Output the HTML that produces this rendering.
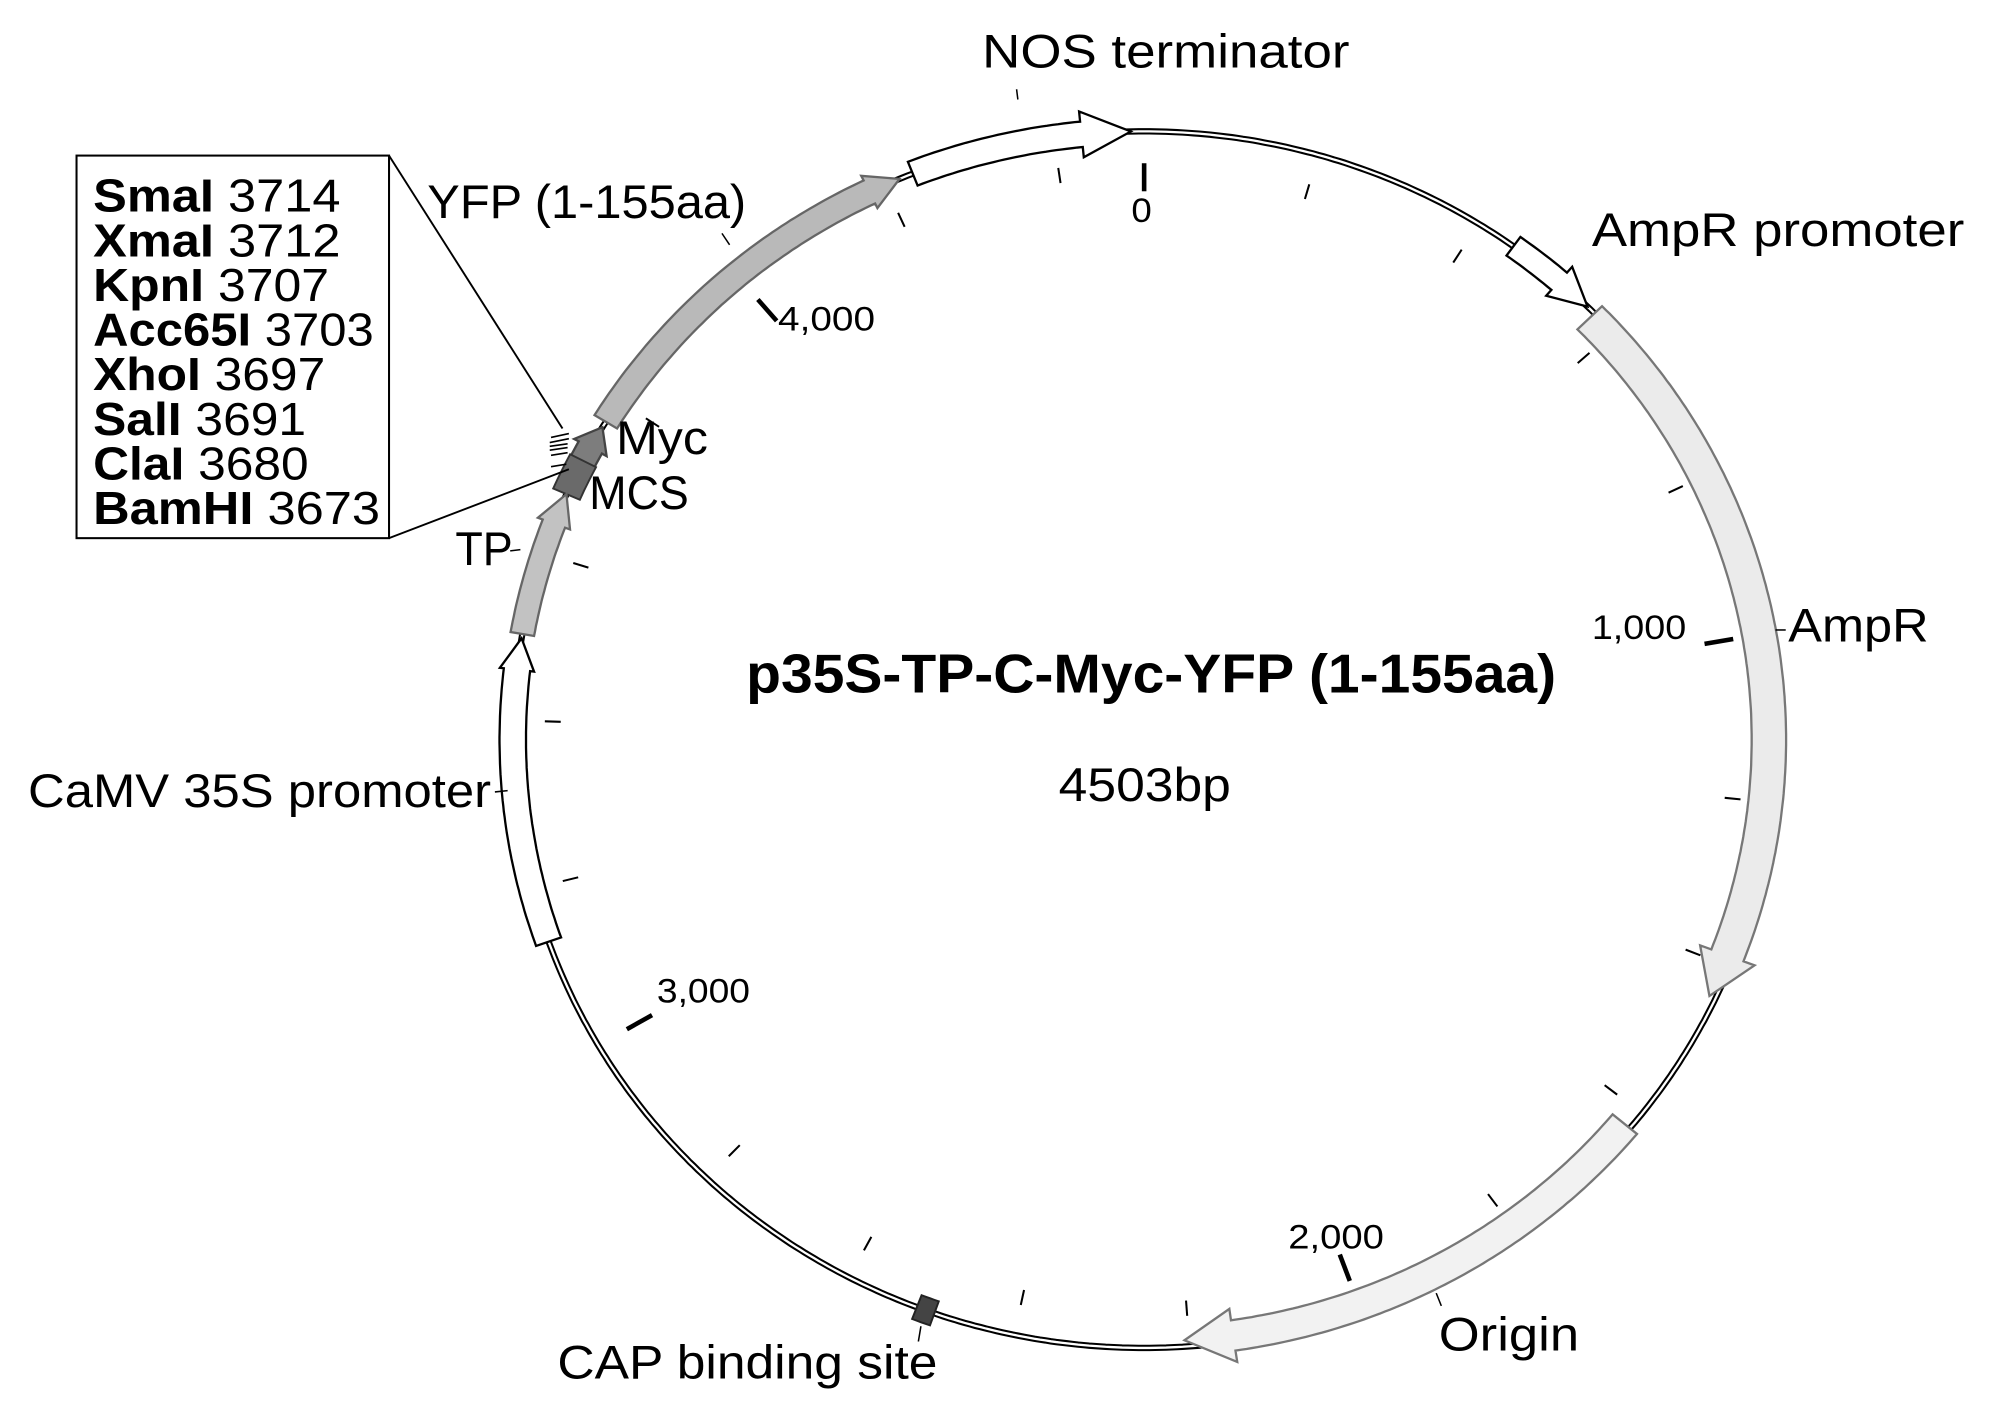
<!DOCTYPE html>
<html><head><meta charset="utf-8"><style>
html,body{margin:0;padding:0;background:#fff;}
svg{display:block;}
text{font-family:"Liberation Sans",sans-serif;fill:#000;}
</style></head><body>
<svg id="s" xmlns="http://www.w3.org/2000/svg" width="2000" height="1427" viewBox="0 0 1568 1119" preserveAspectRatio="none">
<g id="shapes"></g>
<rect x="60" y="122" width="245" height="300" fill="none" stroke="#000" stroke-width="1.6"/>
<line x1="305" y1="122" x2="441" y2="336" stroke="#000" stroke-width="1.5"/>
<line x1="305" y1="422" x2="446" y2="368" stroke="#000" stroke-width="1.5"/>
<g stroke="#000" stroke-width="1.3">
<line x1="432" y1="343" x2="446" y2="340"/><line x1="431" y1="347" x2="446" y2="344"/>
<line x1="431" y1="350" x2="445" y2="348"/><line x1="431" y1="353" x2="445" y2="351"/>
<line x1="432" y1="357" x2="445" y2="355"/><line x1="432" y1="366" x2="444" y2="364"/>
</g>
<g font-size="36">
<text x="73" y="166" textLength="194" lengthAdjust="spacingAndGlyphs"><tspan font-weight="bold">SmaI</tspan> 3714</text>
<text x="73" y="201" textLength="194" lengthAdjust="spacingAndGlyphs"><tspan font-weight="bold">XmaI</tspan> 3712</text>
<text x="73" y="236" textLength="185" lengthAdjust="spacingAndGlyphs"><tspan font-weight="bold">KpnI</tspan> 3707</text>
<text x="73" y="271" textLength="220" lengthAdjust="spacingAndGlyphs"><tspan font-weight="bold">Acc65I</tspan> 3703</text>
<text x="73" y="306" textLength="182" lengthAdjust="spacingAndGlyphs"><tspan font-weight="bold">XhoI</tspan> 3697</text>
<text x="73" y="341" textLength="167" lengthAdjust="spacingAndGlyphs"><tspan font-weight="bold">SalI</tspan> 3691</text>
<text x="73" y="376" textLength="169" lengthAdjust="spacingAndGlyphs"><tspan font-weight="bold">ClaI</tspan> 3680</text>
<text x="73" y="411" textLength="225" lengthAdjust="spacingAndGlyphs"><tspan font-weight="bold">BamHI</tspan> 3673</text>
</g>
<g font-size="37">
<text x="770" y="53" textLength="288" lengthAdjust="spacingAndGlyphs">NOS terminator</text>
<text x="1248" y="193" textLength="292" lengthAdjust="spacingAndGlyphs">AmpR promoter</text>
<text x="335" y="171" textLength="250" lengthAdjust="spacingAndGlyphs">YFP (1-155aa)</text>
<text x="483" y="356" textLength="72" lengthAdjust="spacingAndGlyphs">Myc</text>
<text x="462" y="399" textLength="78" lengthAdjust="spacingAndGlyphs">MCS</text>
<text x="357" y="443" textLength="45" lengthAdjust="spacingAndGlyphs">TP</text>
<text x="1402" y="503" textLength="110" lengthAdjust="spacingAndGlyphs">AmpR</text>
<text x="830" y="628" textLength="135" lengthAdjust="spacingAndGlyphs">4503bp</text>
<text x="22" y="633" textLength="363" lengthAdjust="spacingAndGlyphs">CaMV 35S promoter</text>
<text x="1128" y="1059" textLength="110" lengthAdjust="spacingAndGlyphs">Origin</text>
<text x="437" y="1081" textLength="298" lengthAdjust="spacingAndGlyphs">CAP binding site</text>
</g>
<text x="585" y="543" font-size="43" font-weight="bold" textLength="635" lengthAdjust="spacingAndGlyphs">p35S-TP-C-Myc-YFP (1-155aa)</text>
<g font-size="27">
<text x="887" y="174" textLength="16" lengthAdjust="spacingAndGlyphs">0</text>
<text x="610" y="259" textLength="76" lengthAdjust="spacingAndGlyphs">4,000</text>
<text x="1248" y="501" textLength="74" lengthAdjust="spacingAndGlyphs">1,000</text>
<text x="515" y="786" textLength="73" lengthAdjust="spacingAndGlyphs">3,000</text>
<text x="1010" y="979" textLength="75" lengthAdjust="spacingAndGlyphs">2,000</text>
</g>
<g stroke="#000" stroke-width="1.2">
<line x1="797" y1="70" x2="798" y2="78"/>
<line x1="566" y1="183" x2="572" y2="192"/>
<line x1="1392" y1="494" x2="1400" y2="494"/>
<line x1="1126" y1="1014" x2="1130" y2="1024"/>
<line x1="722" y1="1040" x2="720" y2="1052"/>
<line x1="388" y1="621" x2="398" y2="620"/>
<line x1="400" y1="432" x2="408" y2="431"/>
</g>
</svg>
<script>
(function(){
var cx=897,cy=580,sx=1.0377,R=477;
function P(d,r){var a=d*Math.PI/180;return [cx+sx*r*Math.sin(a),cy-r*Math.cos(a)];}
function f(p){return p[0].toFixed(1)+","+p[1].toFixed(1);}
var g=document.getElementById('shapes'),out="";
function arcPts(a0,a1,r){var n=Math.max(2,Math.ceil(Math.abs(a1-a0)*2)),s=[];for(var i=0;i<=n;i++)s.push(f(P(a0+(a1-a0)*i/n,r)));return s;}
var bb=arcPts(0,360,R).join(" ");
out+='<polyline points="'+bb+'" fill="none" stroke="#000" stroke-width="5"/>';
out+='<polyline points="'+bb+'" fill="none" stroke="#fff" stroke-width="1.8"/>';
for(var k=200;k<4503;k+=200){if(k%1000==0)continue;var d=k*360/4503;out+='<line x1="'+P(d,441)[0]+'" y1="'+P(d,441)[1]+'" x2="'+P(d,453)[0]+'" y2="'+P(d,453)[1]+'" stroke="#000" stroke-width="1.6"/>';}
for(var k=0;k<4503;k+=1000){var d=k*360/4503;out+='<line x1="'+P(d,430)[0]+'" y1="'+P(d,430)[1]+'" x2="'+P(d,452)[0]+'" y2="'+P(d,452)[1]+'" stroke="#000" stroke-width="3.6"/>';}
function arrow(a0,a1,r,w,hw,h,fill,stroke){
 var pts=[];pts=pts.concat(arcPts(a0,a1-h,r+w));pts.push(f(P(a1-h,r+hw)));pts.push(f(P(a1,r)));pts.push(f(P(a1-h,r-hw)));
 pts=pts.concat(arcPts(a1-h,a0,r-w));
 out+='<polygon points="'+pts.join(" ")+'" fill="'+fill+'" stroke="'+stroke+'" stroke-width="1.8" stroke-linejoin="miter"/>';}
function box(a0,a1,r,w,fill,stroke){var pts=arcPts(a0,a1,r+w).concat(arcPts(a1,a0,r-w));out+='<polygon points="'+pts.join(" ")+'" fill="'+fill+'" stroke="'+stroke+'" stroke-width="1.5"/>';}
arrow(338.5,358.8,R,10,18,4.5,"#fff","#000");
arrow(301.5,337.2,R,10,14,3,"#b9b9b9","#666");
arrow(297.2,300.9,R,10,14,2.2,"#7d7d7d","#444");
box(293.8,297.3,R,11,"#6a6a6a","#333");
arrow(280,293.8,R,9,13,3,"#c2c2c2","#666");
arrow(250.6,279.6,R,10,13,3,"#fff","#000");
arrow(35.8,44.6,R,9,15,3.5,"#fff","#000");
arrow(45.5,115.2,472,13,22,4.2,"#ebebeb","#777");
arrow(129.7,176.3,472,12,21,4.5,"#f2f2f2","#777");
box(199.4,201.1,R,10,"#444","#222");
g.innerHTML=out;
})();
</script>
</body></html>
